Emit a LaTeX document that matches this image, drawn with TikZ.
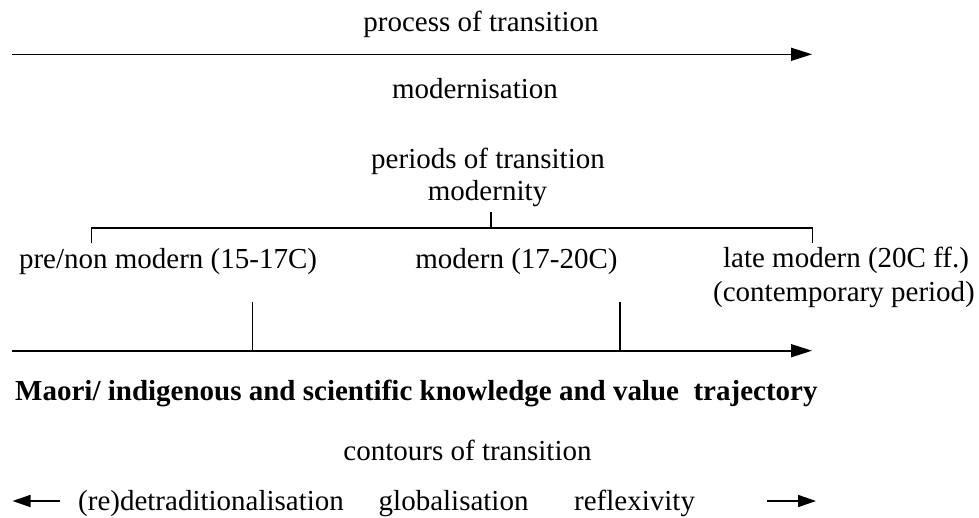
\documentclass[tikz,border=0pt]{standalone}
\usepackage{fontspec}
\setmainfont{Liberation Serif}
\usepackage{tikz}
\usetikzlibrary{arrows.meta}

\tikzset{
  lbl/.style={font=\fontsize{29}{33}\selectfont, inner sep=0pt, anchor=base},
  axis/.style={line width=1.6pt, -{Triangle[length=21pt,width=13pt]}},
  tick/.style={line width=1.1pt},
  hint/.style={line width=1.6pt, -{Triangle[length=18pt,width=12pt]}}
}

\begin{document}
\begin{tikzpicture}[x=1pt, y=-1pt]
            \useasboundingbox (0,0) rectangle (979,517);

            \node[lbl] (proc) at (481,31) {process of transition};
            \node[lbl] (modn) at (475,98.3) {modernisation};
            \node[lbl] (per) at (488,168) {periods of transition};
            \node[lbl] (mty) at (487.5,200) {modernity};
            \node[lbl] (pre) at (168,268.5) {pre/non modern (15-17C)};
            \node[lbl] (mod) at (516.5,268.5) {modern (17-20C)};
            \node[lbl] (late) at (846,267) {late modern (20C ff.)};
            \node[lbl] (cpd) at (844,301.5) {(contemporary period)};
            \node[lbl, font=\fontsize{29}{33}\selectfont\bfseries, anchor=base west] (traj) at (15,400) {Maori/ indigenous and scientific knowledge and value\ \ trajectory};
            \node[lbl] (ctr) at (467.5,460) {contours of transition};
            \node[lbl, anchor=base west] (detr) at (78,510) {(re)detraditionalisation};
            \node[lbl, anchor=base west] (glob) at (378.5,510) {globalisation};
            \node[lbl, anchor=base west] (refl) at (574,510) {reflexivity};

            \coordinate (A) at (12,54.3);
            \coordinate (B) at (812,54.3);
            \coordinate (C) at (12,350.7);
            \coordinate (D) at (812,350.7);
            \coordinate (BL) at (91.7,243);
            \coordinate (BLt) at (91.7,228);
            \coordinate (BRt) at (812.7,228);
            \coordinate (BR) at (812.7,243);
            \coordinate (BM) at (491,212);
            \coordinate (T1) at (252.3,301.7);
            \coordinate (T2) at (620,301.7);
            \coordinate (L0) at (60,501);
            \coordinate (L1) at (12.5,501);
            \coordinate (R0) at (767,501);
            \coordinate (R1) at (816,501);

            \draw[axis] (A) -- (B);
            \draw[tick] (BL) -- (BLt) -- (BRt) -- (BR);
            \draw[tick] (BM) -- (BM |- BLt);
            \draw[axis] (C) -- (D);
            \draw[tick] (T1) -- (T1 |- C);
            \draw[tick] (T2) -- (T2 |- C);
            \draw[hint] (L0) -- (L1);
            \draw[hint] (R0) -- (R1);
        \end{tikzpicture}
\end{document}
